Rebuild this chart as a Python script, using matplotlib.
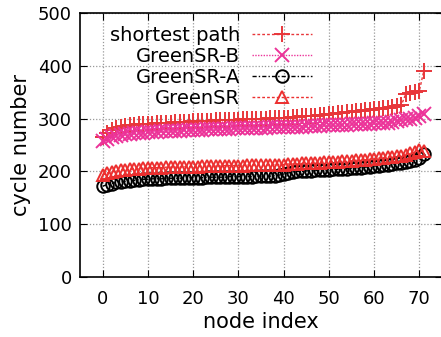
import numpy as np
import matplotlib
matplotlib.use('Agg')
import matplotlib.pyplot as plt

# cycle numbers per node (sorted)
shortest_path = [265, 273, 279, 282, 284, 286, 287, 288, 289, 289, 290, 290, 291, 291, 292, 292,
                 293, 293, 294, 294, 295, 295, 296, 296, 296, 297, 297, 297, 298, 298, 298, 299,
                 299, 299, 300, 300, 300, 301, 301, 301, 302, 302, 303, 303, 304, 304, 305, 305,
                 306, 307, 308, 309, 310, 311, 312, 313, 314, 315, 316, 317, 318, 319, 320, 321,
                 322, 323, 325, 347, 349, 351, 353, 391]
greensr_b = [258, 262, 265, 267, 269, 270, 271, 272, 273, 273, 274, 275, 275, 276, 276, 277,
             277, 277, 278, 278, 279, 279, 279, 280, 280, 280, 281, 281, 281, 282, 282, 282,
             282, 283, 283, 283, 283, 284, 284, 284, 284, 285, 285, 285, 285, 286, 286, 286,
             286, 287, 287, 287, 288, 288, 288, 289, 289, 289, 290, 290, 291, 291, 292, 292,
             293, 295, 297, 299, 300, 302, 304, 308]
greensr_a = [172, 175, 177, 179, 180, 181, 182, 183, 184, 185, 185, 186, 186, 186, 187, 187,
             187, 187, 188, 188, 188, 188, 188, 189, 189, 189, 189, 189, 190, 190, 190, 190,
             190, 190, 191, 191, 191, 191, 192, 193, 195, 197, 199, 200, 200, 201, 201, 202,
             202, 203, 203, 204, 204, 205, 205, 206, 207, 207, 208, 209, 210, 211, 212, 213,
             214, 215, 216, 218, 220, 222, 225, 233]
greensr = [193, 197, 199, 201, 202, 203, 204, 205, 205, 206, 206, 207, 207, 207, 208, 208,
           208, 208, 209, 209, 209, 209, 210, 210, 210, 210, 210, 211, 211, 211, 211, 211,
           212, 212, 212, 212, 212, 213, 213, 213, 213, 214, 214, 214, 215, 215, 215, 216,
           216, 217, 217, 218, 218, 219, 219, 220, 221, 221, 222, 223, 224, 225, 226, 227,
           228, 229, 230, 232, 234, 236, 240, 238]
nodes = np.arange(len(shortest_path))

xticks = [0, 10, 20, 30, 40, 50, 60, 70]
yticks = [0, 100, 200, 300, 400, 500]

plt.rcParams['font.family'] = 'DejaVu Sans'

fig = plt.figure(figsize=(4.41, 3.37), dpi=100)
ax = fig.add_axes([80 / 441, 1 - 277 / 337, 362 / 441, 264 / 337])

ax.plot(nodes, shortest_path, color='#e8363a', ls=(0, (2, 1.5)), lw=1.0,
        marker='+', ms=12, mew=1.4, label='shortest path')
ax.plot(nodes, greensr_b, color='#ec3399', ls=(0, (1, 1)), lw=1.0,
        marker='x', ms=9.5, mew=1.4, label='GreenSR-B')
ax.plot(nodes, greensr_a, color='black', ls=(0, (3, 1.5, 1, 1.5)), lw=1.0,
        marker='o', ms=9, mew=1.4, mfc='none', label='GreenSR-A')
ax.plot(nodes, greensr, color='#ec2f2f', ls=(0, (2, 1.5)), lw=1.0,
        marker='^', ms=9, mew=1.4, mfc='none', label='GreenSR')

ax.set_xlim(-5, 75)
ax.set_ylim(0, 500)
ax.set_xticks(xticks)
ax.set_yticks(yticks)
ax.tick_params(direction='in', length=5, top=True, right=True, labelsize=13)
ax.tick_params(axis='x', pad=9)
ax.tick_params(axis='y', pad=6)
ax.grid(True, color='#999999', ls=(0, (1, 1.5)), lw=0.9)
ax.set_axisbelow(True)
for s in ax.spines.values():
    s.set_linewidth(1.2)

ax.set_xlabel('node index', fontsize=15, labelpad=3)
ax.set_ylabel('cycle number', fontsize=15, labelpad=5)

ax.legend(loc='upper right', bbox_to_anchor=(312 / 441, 1 - 26 / 337),
          bbox_transform=fig.transFigure, frameon=False, markerfirst=False,
          fontsize=14, handlelength=3.1, handletextpad=0.6, labelspacing=0.1,
          borderpad=0, borderaxespad=0)

fig.savefig('out.png', dpi=100)
